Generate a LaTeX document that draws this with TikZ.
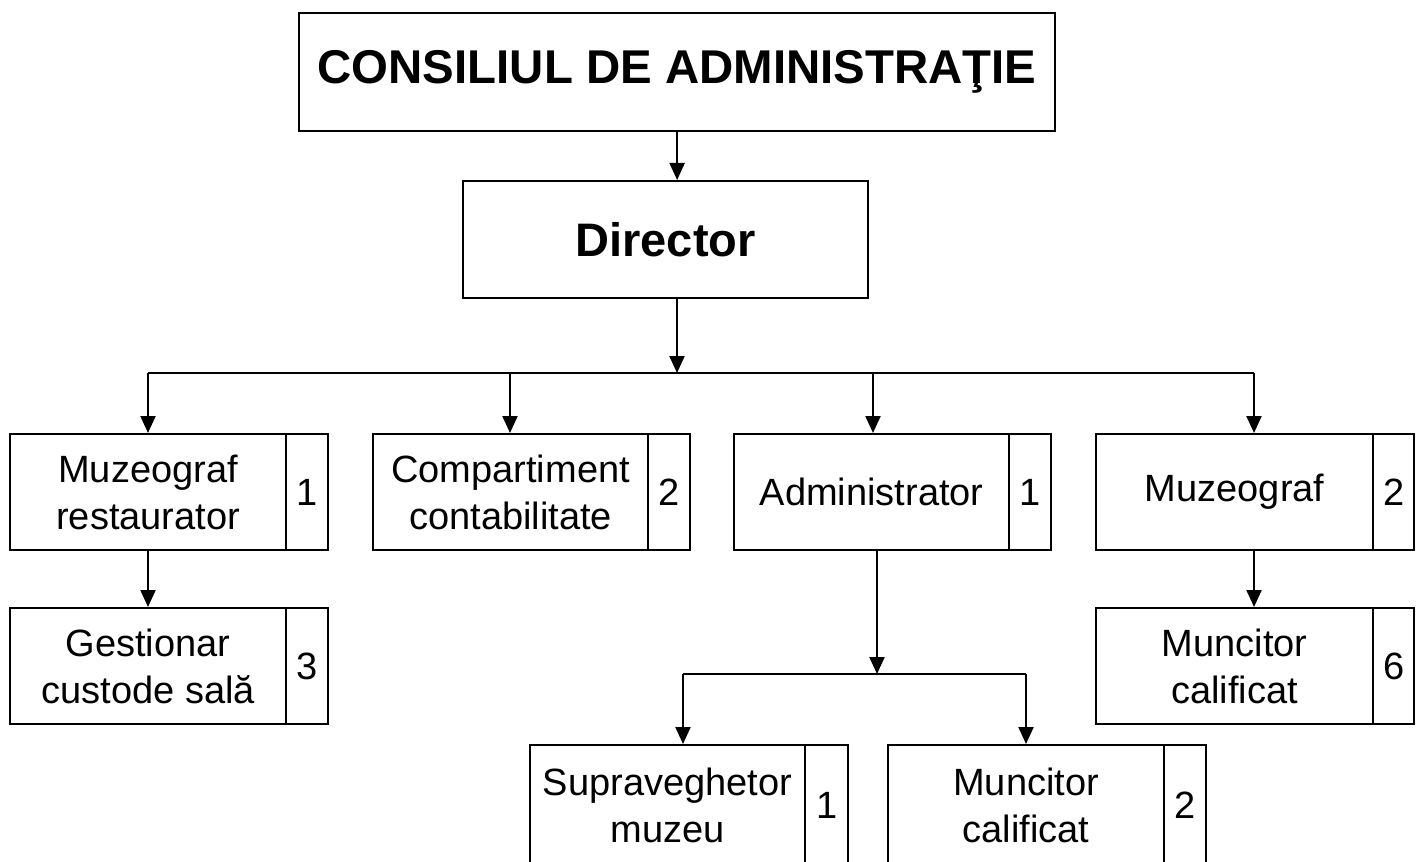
\documentclass[tikz,border=0pt]{standalone}
\usepackage{fontspec}
\setmainfont{Liberation Sans}
\usetikzlibrary{arrows.meta}
\tikzset{
  orgbox/.style={draw, line width=1.1pt, inner sep=0pt, anchor=north west, align=center,
    font=\fontsize{19}{23.5}\selectfont},
  numbox/.style={orgbox},
  conn/.style={line width=1.1pt},
  arr/.style={conn, -{Triangle[width=7.5pt,length=8.5pt]}}
}
\begin{document}
\begin{tikzpicture}[x=0.5pt,y=-0.5pt]
\useasboundingbox[fill=white] (0,0) rectangle (1416,861);
% top levels
\node[orgbox, minimum width=378pt, minimum height=59pt, font=\bfseries\fontsize{23.7}{28}\selectfont] (title) at (298,12) {CONSILIUL DE ADMINISTRAŢIE};
\node[orgbox, minimum width=202.5pt, minimum height=58.5pt, font=\bfseries\fontsize{23.5}{28}\selectfont] (director) at (462,180) {Director};
% row 1
\node[orgbox, minimum width=138pt, minimum height=58pt] (m1) at (9,433) {Muzeograf\\restaurator};
\node[numbox, minimum width=21pt, minimum height=58pt] (m1n) at (285,433) {1};
\node[orgbox, minimum width=137.5pt, minimum height=58pt] (c2) at (372,433) {Compartiment\\contabilitate};
\node[numbox, minimum width=21pt, minimum height=58pt] (c2n) at (647,433) {2};
\node[orgbox, minimum width=137.5pt, minimum height=58pt] (a3) at (733,433) {Administrator};
\node[numbox, minimum width=21pt, minimum height=58pt] (a3n) at (1008,433) {1};
\node[orgbox, minimum width=138.5pt, minimum height=58pt] (z4) at (1095,433) {Muzeograf};
\node[numbox, minimum width=20.5pt, minimum height=58pt] (z4n) at (1372,433) {2};
% row 2
\node[orgbox, minimum width=138pt, minimum height=58pt] (g) at (9,607) {Gestionar\\custode sală};
\node[numbox, minimum width=21pt, minimum height=58pt] (gn) at (285,607) {3};
\node[orgbox, minimum width=138.5pt, minimum height=58pt] (mc6) at (1095,607) {Muncitor\\calificat};
\node[numbox, minimum width=20.5pt, minimum height=58pt] (mc6n) at (1372,607) {6};
% row 3
\node[orgbox, minimum width=137.5pt, minimum height=60pt] (s) at (529,744) {Supraveghetor\\muzeu};
\node[numbox, minimum width=21.5pt, minimum height=60pt] (sn) at (804,744) {1};
\node[orgbox, minimum width=138pt, minimum height=60pt] (mc2) at (887,744) {Muncitor\\calificat};
\node[numbox, minimum width=21pt, minimum height=60pt] (mc2n) at (1163,744) {2};
% connectors
\draw[arr] (title.south) -- (title.south |- director.north);
\coordinate (busC) at (677,373);
\draw[arr] (director.south -| busC) -- (busC);
\coordinate (b1) at (148,373);
\coordinate (b2) at (510,373);
\coordinate (b3) at (873,373);
\coordinate (b4) at (1254,373);
\draw[conn] (b1) -- (b4);
\draw[arr] (b1) -- (b1 |- m1.north);
\draw[arr] (b2) -- (b2 |- c2.north);
\draw[arr] (b3) -- (b3 |- a3.north);
\draw[arr] (b4) -- (b4 |- z4.north);
\draw[arr] (m1.south -| b1) -- (b1 |- g.north);
\draw[arr] (z4.south -| b4) -- (b4 |- mc6.north);
\coordinate (sb) at (877,674);
\coordinate (s1) at (683,674);
\coordinate (s2) at (1026,674);
\draw[arr] (a3.south -| sb) -- (sb);
\draw[conn] (s1) -- (s2);
\draw[arr] (s1) -- (s1 |- s.north);
\draw[arr] (s2) -- (s2 |- mc2.north);
\end{tikzpicture}
\end{document}
